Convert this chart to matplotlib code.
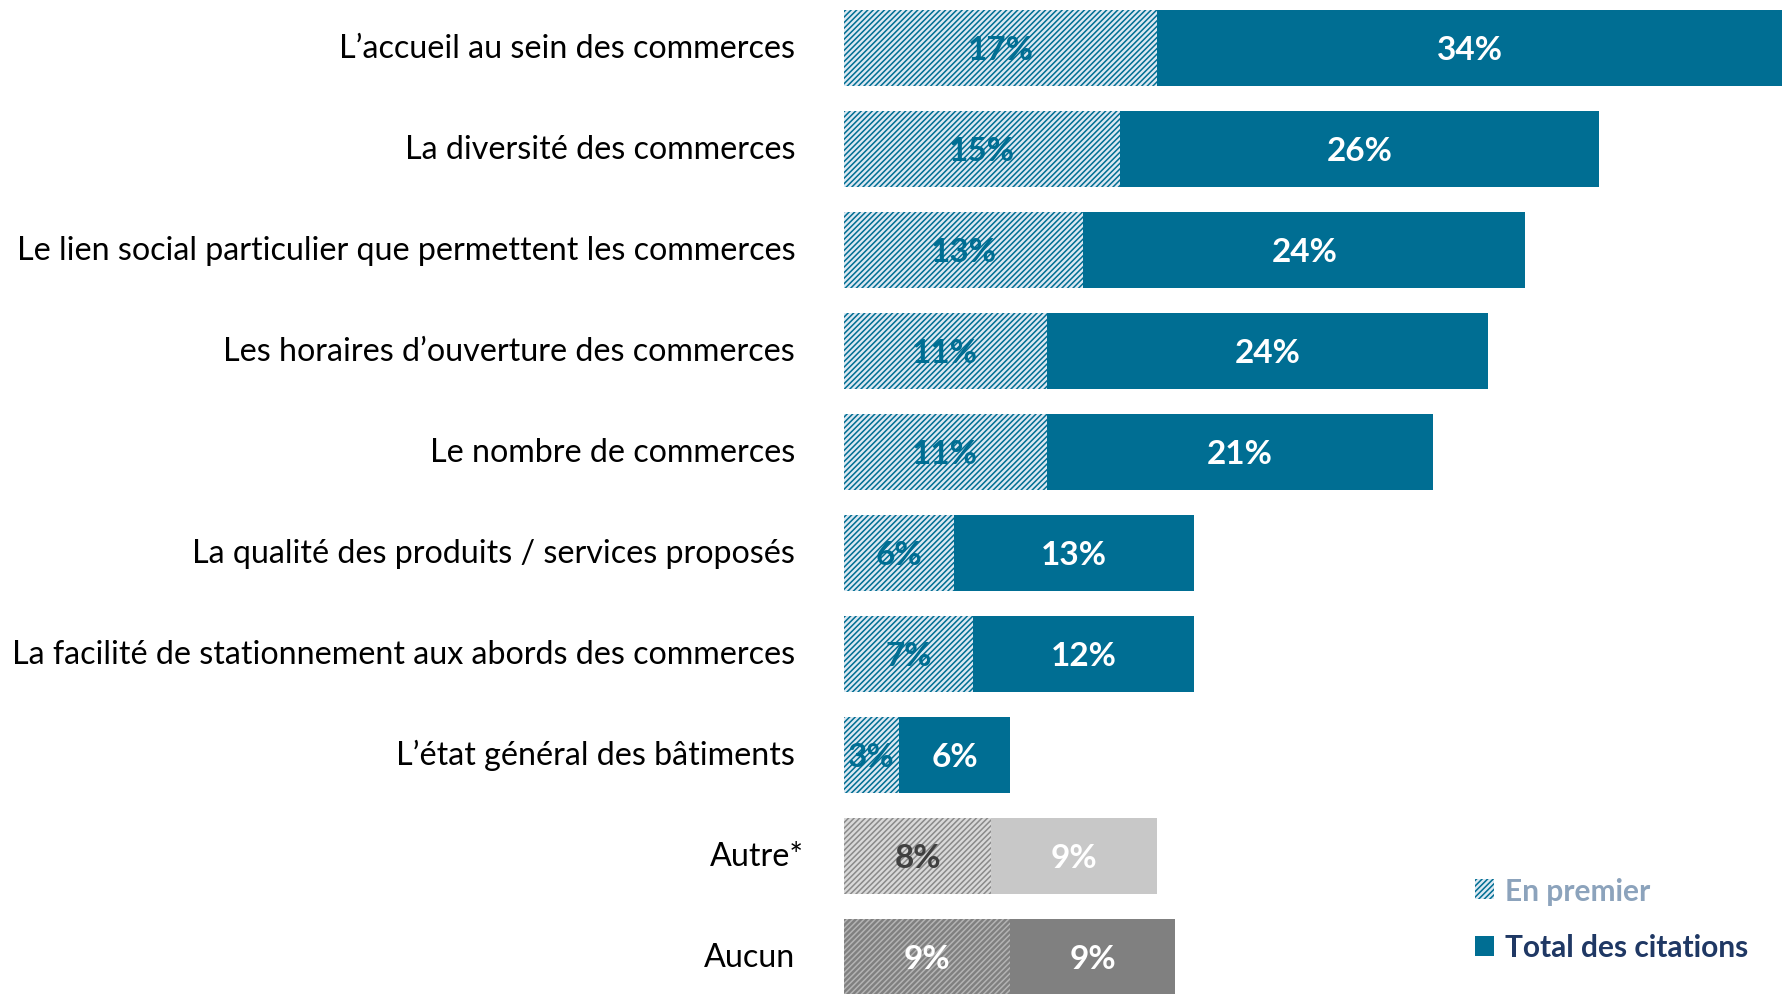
import matplotlib
matplotlib.use('Agg')
from matplotlib import pyplot as plt
from matplotlib.patches import Patch

labels = [
	'L\u2019accueil au sein des commerces',
	'La diversit\u00e9 des commerces',
	'Le lien social particulier que permettent les commerces',
	'Les horaires d\u2019ouverture des commerces',
	'Le nombre de commerces',
	'La qualit\u00e9 des produits / services propos\u00e9s',
	'La facilit\u00e9 de stationnement aux abords des commerces',
	'L\u2019\u00e9tat g\u00e9n\u00e9ral des b\u00e2timents',
	'Autre*',
	'Aucun',
]
en_premier = [17, 15, 13, 11, 11, 6, 7, 3, 8, 9]
total_citations = [34, 26, 24, 24, 21, 13, 12, 6, 9, 9]

TEAL = '#006E93'
LIGHT = '#DCE8F2'

# per-row styles: (hatch bg, hatch lines, first label color, solid color, solid label color)
styles = [(LIGHT, TEAL, TEAL, TEAL, 'white')] * 8 + [
	('#D9D9D9', '#8A8A8A', '#404040', '#C8C8C8', 'white'),
	('#808080', '#B4B4B4', 'white', '#808080', 'white'),
]

plt.rcParams['font.family'] = ['Lato', 'DejaVu Sans']
plt.rcParams['hatch.linewidth'] = 1.1

fig = plt.figure(figsize=(17.83, 9.95), dpi=100)
ax = fig.add_axes([844 / 1783, 0, 1 - 844 / 1783, 1])

y = list(range(len(labels)))
h = 0.75
for i in y:
	bg, hc, c1, c2, c2t = styles[i]
	ax.barh(i, en_premier[i], height=h, color=bg, edgecolor=hc, hatch='//////', linewidth=0)
	ax.barh(i, total_citations[i], left=en_premier[i], height=h, color=c2, linewidth=0)
	ax.text(en_premier[i] / 2, i + 0.02, '%d%%' % en_premier[i], ha='center', va='center',
		fontsize=24, fontweight='bold', color=c1)
	ax.text(en_premier[i] + total_citations[i] / 2, i + 0.02, '%d%%' % total_citations[i],
		ha='center', va='center', fontsize=24, fontweight='bold', color=c2t)
	# the asterisk label sticks out a bit in the original
	xl = -2.2 if labels[i].endswith('*') else -2.65
	ax.text(xl, i, labels[i], ha='right', va='center', fontsize=23.2, color='black')

ax.set_xlim(0, 51)
ax.set_ylim(9.37, -0.485)
ax.axis('off')

handles = [
	Patch(facecolor=LIGHT, edgecolor=TEAL, hatch='//////', linewidth=0),
	Patch(facecolor=TEAL, linewidth=0),
]
leg = fig.legend(handles, ['En premier', 'Total des citations'], loc='upper left',
	bbox_to_anchor=(1448 / 1783, 1 - 851 / 995), frameon=False, fontsize=21.5,
	handlelength=0.65, handleheight=0.65, handletextpad=0.35, labelspacing=0.95)
for t, c in zip(leg.get_texts(), ['#8CA3BC', '#1F3864']):
	t.set_color(c)
	t.set_fontweight('bold')

fig.savefig('out.png', dpi=100)
